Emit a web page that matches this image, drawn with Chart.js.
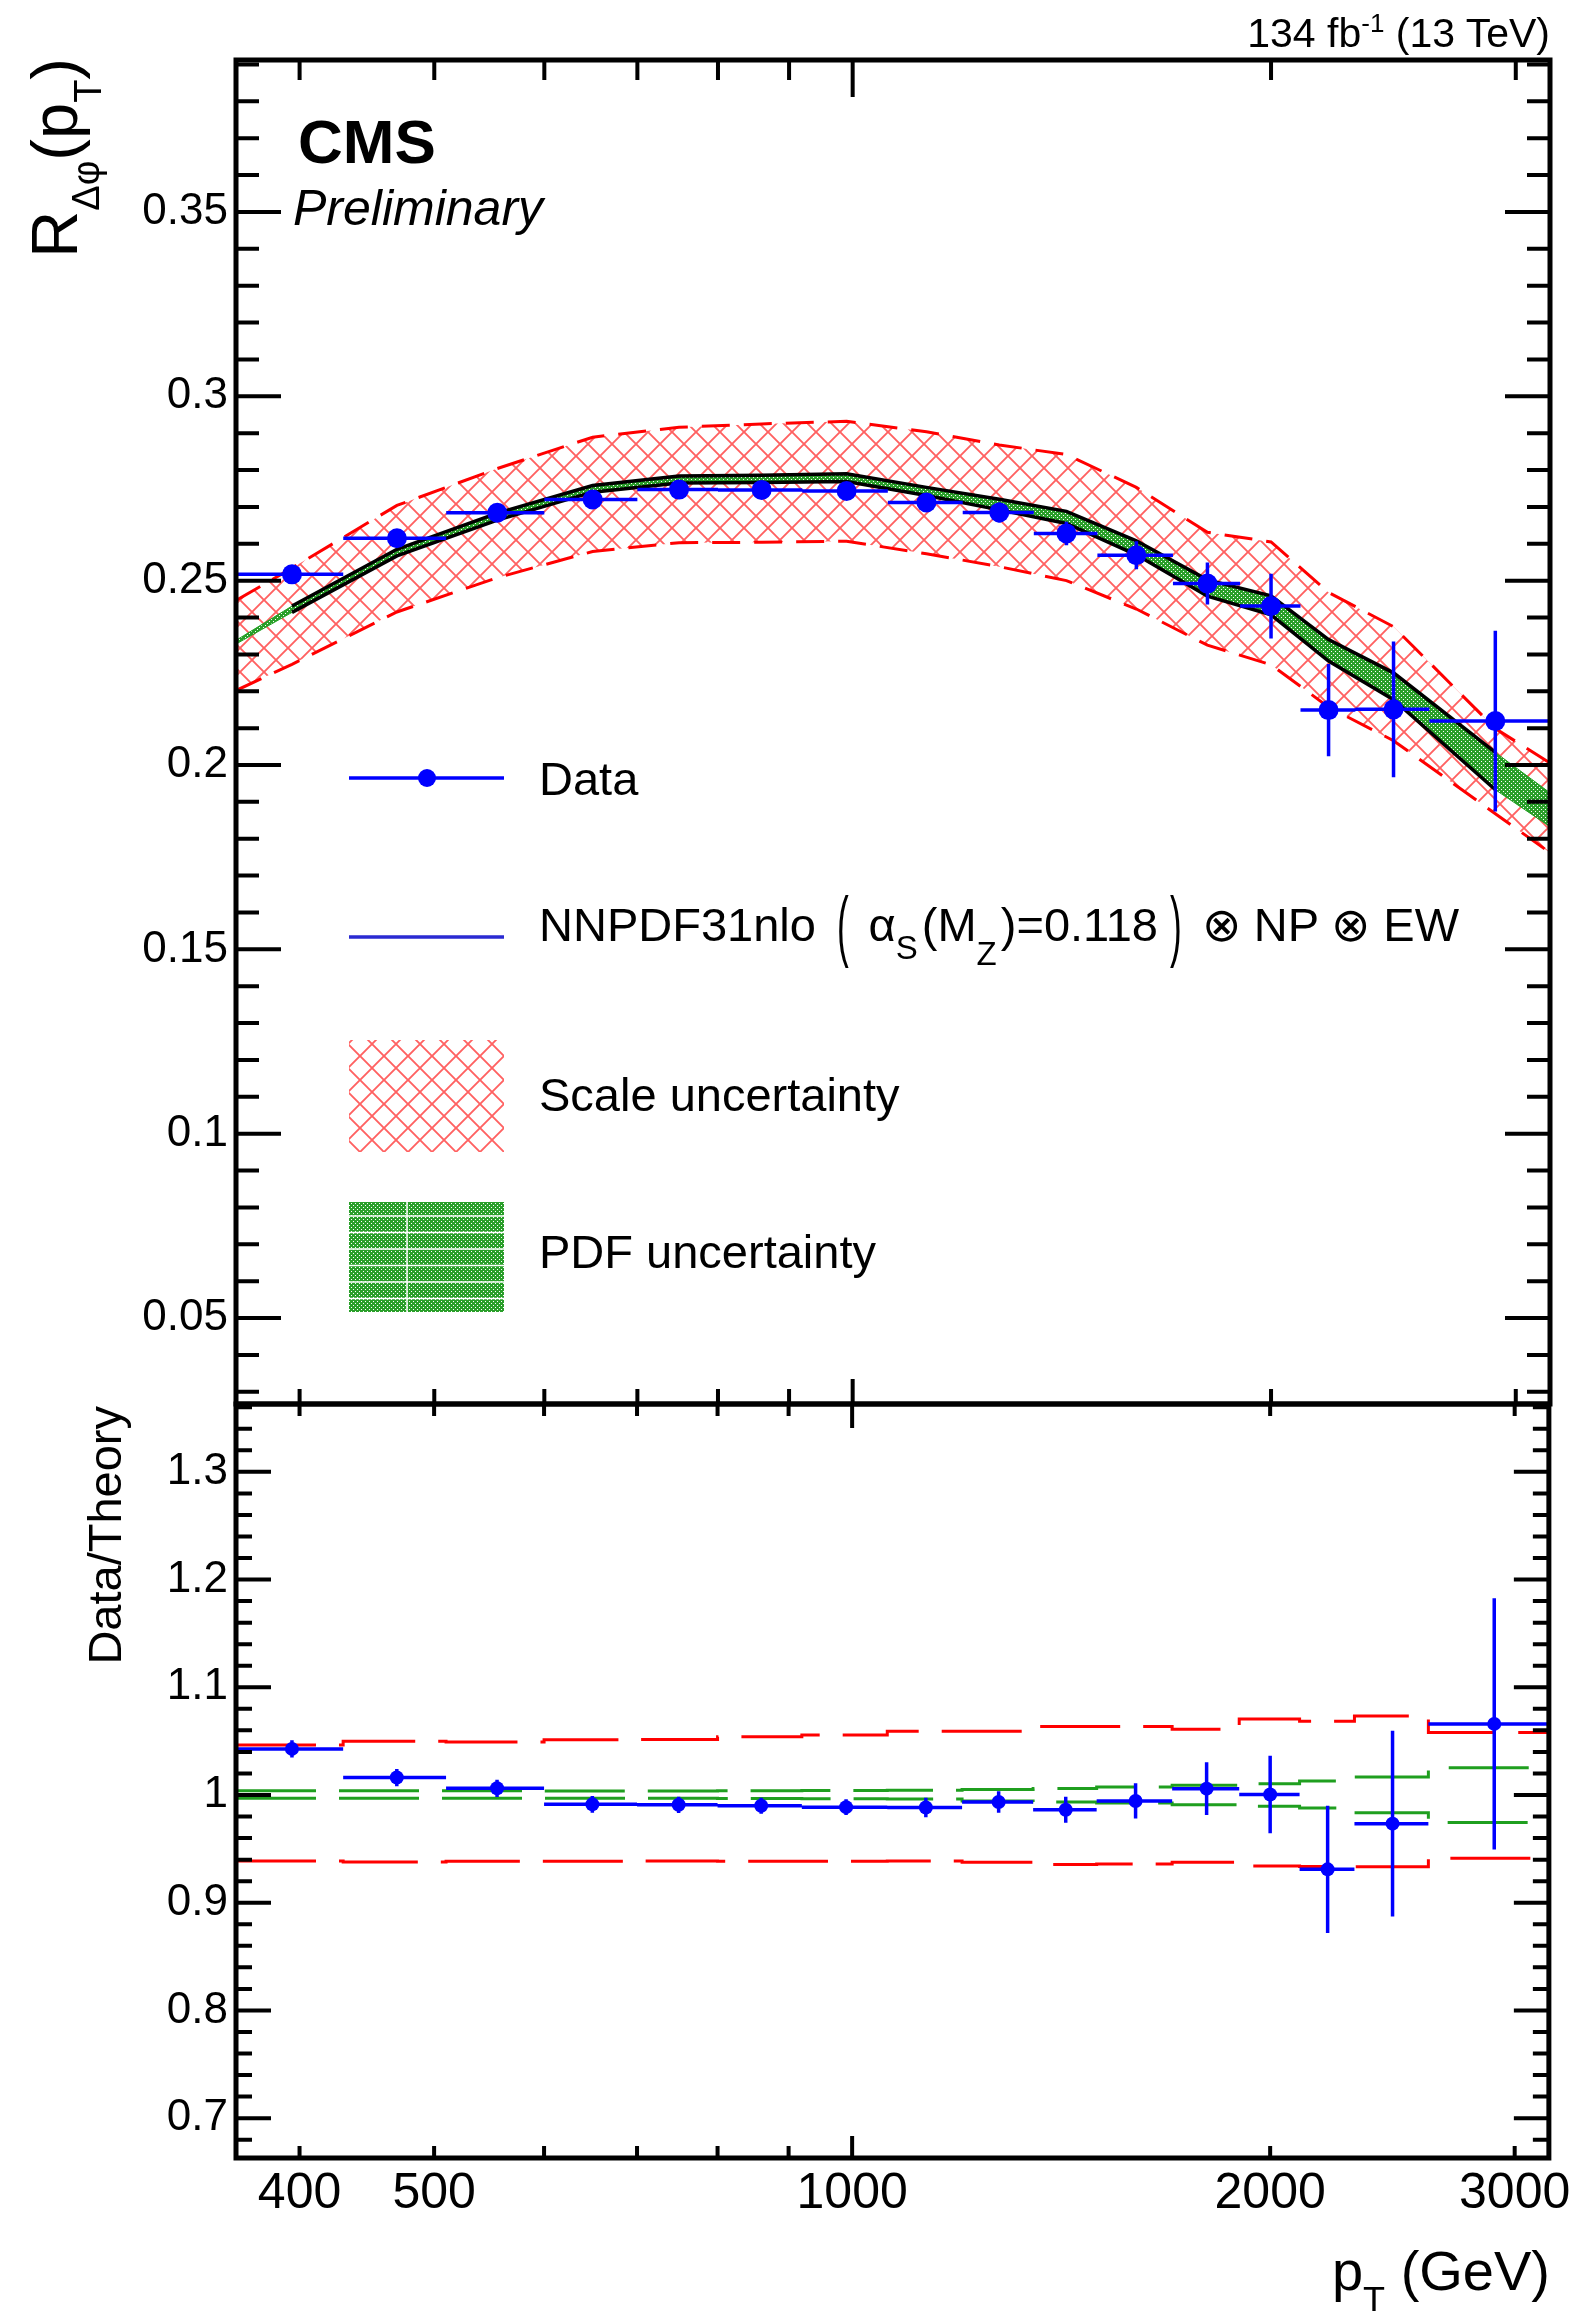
<!DOCTYPE html>
<html>
<head>
<meta charset="utf-8">
<script src="https://cdn.jsdelivr.net/npm/chart.js@4.4.1/dist/chart.umd.min.js"></script>
<style>
  html, body { margin: 0; padding: 0; background: #fff; }
  #page { position: relative; width: 1577px; height: 2311px; overflow: hidden;
          font-family: "Liberation Sans", Arial, Helvetica, sans-serif; color: #000; }
  canvas { position: absolute; left: 0; }
  .t { position: absolute; white-space: nowrap; line-height: 1; }
  .bp { display: inline-block; transform: scale(0.75, 1.65); font-weight: 300; }
</style>
</head>
<body>
<div id="page">
  <canvas id="upper" width="1577" height="1470" style="top:0px"></canvas>
  <canvas id="lower" width="1577" height="971" style="top:1340px"></canvas>
</div>
<script>
// =========================================================================
// Data
// =========================================================================
const binEdges = [360, 430, 510, 600, 700, 800, 920, 1060, 1200, 1350, 1500, 1700, 1900, 2100, 2300, 2600, 3200];
const binCenters = [395, 470, 555, 650, 750, 860, 990, 1130, 1275, 1425, 1600, 1800, 2000, 2200, 2450, 2900];

// measured R_dphi and its error
const dataR = [0.2517, 0.2615, 0.2684, 0.2720, 0.2747, 0.2746, 0.2743, 0.2712, 0.2685, 0.2628, 0.2569, 0.2492, 0.2431, 0.2149, 0.2151, 0.2119];
const dataRErr = [0.0015, 0.0015, 0.0015, 0.0015, 0.0015, 0.0018, 0.0020, 0.0024, 0.0027, 0.0032, 0.0038, 0.0057, 0.0088, 0.0125, 0.0184, 0.0245];

// theory bands in the upper pad: left frame edge, the 16 bin centres, right edge
const scaleHiTop = [0.2446, 0.2534, 0.2704, 0.2804, 0.2889, 0.2916, 0.2925, 0.2932, 0.2904, 0.2868, 0.2842, 0.2753, 0.2631, 0.2605, 0.2468, 0.2375, 0.2099, 0.1997];
const scaleLoTop = [0.2202, 0.2273, 0.2415, 0.2508, 0.2579, 0.2603, 0.2604, 0.2607, 0.2573, 0.2538, 0.2500, 0.2423, 0.2325, 0.2272, 0.2157, 0.2066, 0.1868, 0.1753];
const pdfHiTop = [0.2338, 0.2431, 0.2585, 0.2683, 0.2758, 0.2784, 0.2786, 0.2790, 0.2753, 0.2721, 0.2688, 0.2608, 0.2502, 0.2459, 0.2340, 0.2250, 0.2034, 0.1915];
const pdfLoTop = [0.2328, 0.2414, 0.2567, 0.2664, 0.2740, 0.2765, 0.2766, 0.2769, 0.2731, 0.2692, 0.2655, 0.2570, 0.2458, 0.2407, 0.2282, 0.2177, 0.1933, 0.1824];

// lower pad: data / theory and the relative uncertainties per bin
const ratio = [1.0428, 1.0162, 1.0062, 0.9913, 0.9909, 0.9900, 0.9887, 0.9884, 0.9935, 0.9863, 0.9945, 1.0059, 1.0004, 0.9310, 0.9734, 1.0660];
const ratioErr = [0.008, 0.008, 0.008, 0.0078, 0.0075, 0.0075, 0.0073, 0.009, 0.010, 0.012, 0.0163, 0.0244, 0.036, 0.059, 0.0863, 0.1166];
const scaleUpRatio = [1.0465, 1.0500, 1.0493, 1.0512, 1.0515, 1.0540, 1.0556, 1.0593, 1.0593, 1.0635, 1.0635, 1.0610, 1.0705, 1.0685, 1.0734, 1.0580];
const scaleDnRatio = [0.9388, 0.9377, 0.9386, 0.9386, 0.9388, 0.9384, 0.9386, 0.9388, 0.9375, 0.9355, 0.9360, 0.9375, 0.9340, 0.9336, 0.9335, 0.9413];
const pdfUpRatio = [1.0040, 1.0040, 1.0040, 1.0038, 1.0038, 1.0040, 1.0042, 1.0045, 1.0050, 1.0060, 1.0075, 1.0090, 1.0105, 1.0130, 1.0168, 1.0252];
const pdfDnRatio = [0.9970, 0.9970, 0.9970, 0.9970, 0.9970, 0.9968, 0.9966, 0.9962, 0.9945, 0.9935, 0.9925, 0.9910, 0.9895, 0.9880, 0.9836, 0.9744];

// axes
const xMin = 360, xMax = 3175;
const xTicks = [400, 500, 1000, 2000, 3000];
const xLabels = ["400", "500", "1000", "2000", "3000"];
const xTickMarks = [400, 500, 600, 700, 800, 900, 1000, 2000, 3000];
const xMajorMarks = [1000];
const topYTicks = [0.05, 0.1, 0.15, 0.2, 0.25, 0.3, 0.35];
const topYLabels = ["0.05", "0.1", "0.15", "0.2", "0.25", "0.3", "0.35"];
const botYTicks = [0.7, 0.8, 0.9, 1.0, 1.1, 1.2, 1.3];
const botYLabels = ["0.7", "0.8", "0.9", "1", "1.1", "1.2", "1.3"];

const FONT = '"Liberation Sans", Arial, Helvetica, sans-serif';
const BLUE = "#0000ff";
const RED = "#ff0000";
const GREEN = "#1f9f1f";

// =========================================================================
// Fill patterns (ROOT-like hatching)
// =========================================================================
function redHatch() {
  const s = 24;
  const c = document.createElement("canvas");
  c.width = c.height = s;
  const g = c.getContext("2d");
  g.strokeStyle = "rgba(255,0,0,0.62)";
  g.lineWidth = 1.9;
  g.beginPath();
  for (const dx of [-s, 0, s]) {
    g.moveTo(dx, 0); g.lineTo(dx + s, s);
    g.moveTo(dx + s, 0); g.lineTo(dx, s);
  }
  g.stroke();
  return g.createPattern(c, "repeat");
}

function greenDots() {
  const c = document.createElement("canvas");
  c.width = c.height = 4;
  const g = c.getContext("2d");
  g.fillStyle = "#2a9f2a";
  g.fillRect(0, 0, 4, 4);
  g.fillStyle = "#ffffff";
  g.fillRect(1, 1, 1, 1);
  g.fillRect(3, 3, 1, 1);
  return g.createPattern(c, "repeat");
}

const hatch = redHatch();
const dots = greenDots();

// =========================================================================
// Plugins
// =========================================================================

// frame with inside ticks on all four sides
const rootFrame = {
  id: "rootFrame",
  afterDraw(chart, args, o) {
    const { ctx, chartArea: a } = chart;
    const xs = chart.scales.x, ys = chart.scales.y;
    ctx.save();
    ctx.strokeStyle = "#000";
    ctx.lineWidth = 4;
    ctx.beginPath();
    const n = Math.round((o.yTo - o.yFrom) / o.yStep);
    for (let k = 0; k <= n; k++) {
      const v = o.yFrom + k * o.yStep;
      const major = Math.abs(v / o.yMajor - Math.round(v / o.yMajor)) < 1e-6;
      const len = major ? o.yLen[1] : o.yLen[0];
      const py = ys.getPixelForValue(v);
      if (py < a.top + 3 || py > a.bottom - 3) continue;
      ctx.moveTo(a.left, py); ctx.lineTo(a.left + len, py);
      ctx.moveTo(a.right, py); ctx.lineTo(a.right - len, py);
    }
    xTickMarks.forEach((v) => {
      const major = xMajorMarks.includes(v);
      const px = xs.getPixelForValue(v);
      ctx.moveTo(px, a.top); ctx.lineTo(px, a.top + (major ? o.xTopLen[1] : o.xTopLen[0]));
      ctx.moveTo(px, a.bottom); ctx.lineTo(px, a.bottom - (major ? o.xBotLen[1] : o.xBotLen[0]));
    });
    ctx.stroke();
    ctx.lineWidth = 5;
    ctx.strokeRect(a.left, a.top, a.right - a.left, a.bottom - a.top);
    ctx.restore();
  },
};

// horizontal bin-width bars and vertical error bars for the data
const errorBars = {
  id: "errorBars",
  afterDatasetsDraw(chart) {
    const { ctx, chartArea: a } = chart;
    const xs = chart.scales.x, ys = chart.scales.y;
    ctx.save();
    ctx.beginPath();
    ctx.rect(a.left, a.top, a.right - a.left, a.bottom - a.top);
    ctx.clip();
    chart.data.datasets.forEach((ds) => {
      if (!ds.bars) return;
      ctx.strokeStyle = BLUE;
      ctx.lineWidth = ds.bars.width;
      ctx.beginPath();
      ds.data.forEach((p, i) => {
        const px = xs.getPixelForValue(p.x), py = ys.getPixelForValue(p.y);
        ctx.moveTo(xs.getPixelForValue(ds.bars.lo[i]), py);
        ctx.lineTo(xs.getPixelForValue(ds.bars.hi[i]), py);
        ctx.moveTo(px, ys.getPixelForValue(p.y + ds.bars.err[i]));
        ctx.lineTo(px, ys.getPixelForValue(p.y - ds.bars.err[i]));
      });
      ctx.stroke();
    });
    ctx.restore();
  },
};

// legend symbols (text is placed as HTML below)
const legendMarks = {
  id: "legendMarks",
  afterDraw(chart) {
    const ctx = chart.ctx;
    ctx.save();
    ctx.lineWidth = 3.5;
    ctx.strokeStyle = BLUE;
    ctx.beginPath(); ctx.moveTo(349, 778); ctx.lineTo(504, 778); ctx.stroke();
    ctx.fillStyle = BLUE;
    ctx.beginPath(); ctx.arc(427, 778, 9, 0, 2 * Math.PI); ctx.fill();
    ctx.strokeStyle = "#2a2ad2";
    ctx.beginPath(); ctx.moveTo(349, 937); ctx.lineTo(504, 937); ctx.stroke();
    ctx.fillStyle = hatch;
    ctx.fillRect(349, 1040, 155, 112);
    ctx.fillStyle = dots;
    ctx.fillRect(349, 1202, 155, 110);
    ctx.strokeStyle = "#fff";
    ctx.lineWidth = 1.5;
    ctx.beginPath();
    for (let y = 1216; y < 1312; y += 16.5) { ctx.moveTo(349, y); ctx.lineTo(504, y); }
    ctx.moveTo(407, 1202); ctx.lineTo(407, 1312);
    ctx.stroke();
    ctx.restore();
  },
};

// =========================================================================
// Helpers
// =========================================================================
const pts = (xs, ys) => xs.map((x, i) => ({ x, y: ys[i] }));
const bandX = [binEdges[0], ...binCenters, binEdges[binEdges.length - 1]];
const steps = (vals) => binEdges.map((e, i) => ({ x: e, y: vals[Math.min(i, vals.length - 1)] }));

function yAxis(min, max, ticks, labels) {
  return {
    type: "linear", min, max,
    afterFit: (s) => { s.width = 236; },
    afterBuildTicks: (s) => { s.ticks = ticks.map((v) => ({ value: v })); },
    ticks: { callback: (v, i) => labels[i], color: "#000", padding: 8, font: { family: FONT, size: 44 } },
    grid: { display: false, drawTicks: false },
    border: { display: false },
  };
}

const common = {
  responsive: false,
  animation: false,
  devicePixelRatio: 1,
  events: [],
};

// =========================================================================
// Upper pad (canvas top = page top, plot area 60..1404)
// =========================================================================
new Chart(document.getElementById("upper"), {
  type: "line",
  data: {
    datasets: [
      { data: pts(bandX, scaleHiTop), fill: "+1", backgroundColor: hatch, borderColor: RED, borderWidth: 3, borderDash: [28, 14], pointRadius: 0, order: 10, clip: 0 },
      { data: pts(bandX, scaleLoTop), fill: false, borderColor: RED, borderWidth: 3, borderDash: [28, 14], pointRadius: 0, order: 10, clip: 0 },
      { data: pts(bandX, pdfHiTop), fill: "+1", backgroundColor: dots, borderColor: GREEN, borderWidth: 1, pointRadius: 0, order: 8, clip: 0 },
      { data: pts(bandX, pdfLoTop), fill: false, borderColor: GREEN, borderWidth: 1, pointRadius: 0, order: 8, clip: 0 },
      { data: pts(binCenters, pdfHiTop.slice(1, -1)), fill: false, borderColor: "#000", borderWidth: 3.5, pointRadius: 0, order: 6, clip: 0 },
      { data: pts(binCenters, pdfLoTop.slice(1, -1)), fill: false, borderColor: "#000", borderWidth: 3.5, pointRadius: 0, order: 6, clip: 0 },
      {
        data: pts(binCenters, dataR), showLine: false, pointRadius: 10, pointBackgroundColor: BLUE, pointBorderWidth: 0, order: 1,
        bars: { lo: binEdges.slice(0, -1), hi: binEdges.slice(1), err: dataRErr, width: 3.5 },
      },
    ],
  },
  options: {
    ...common,
    layout: { padding: { left: 0, right: 27, top: 60, bottom: 66 } },
    plugins: {
      legend: { display: false }, tooltip: { enabled: false },
      filler: { drawTime: "beforeDatasetsDraw" },
      rootFrame: { yFrom: 0.03, yTo: 0.39, yStep: 0.01, yMajor: 0.05, yLen: [23, 45], xTopLen: [20, 37], xBotLen: [15, 25] },
    },
    scales: {
      x: { type: "logarithmic", min: xMin, max: xMax, display: false },
      y: yAxis(0.0267, 0.3912, topYTicks, topYLabels),
    },
  },
  plugins: [errorBars, rootFrame, legendMarks],
});

// =========================================================================
// Lower pad (ratio; canvas starts at page y 1340, plot area 1404..2158)
// =========================================================================
new Chart(document.getElementById("lower"), {
  type: "line",
  data: {
    datasets: [
      { data: steps(scaleUpRatio), stepped: true, fill: false, borderColor: RED, borderWidth: 3, borderDash: [80, 23], pointRadius: 0, clip: 0 },
      { data: steps(scaleDnRatio), stepped: true, fill: false, borderColor: RED, borderWidth: 3, borderDash: [80, 23], pointRadius: 0, clip: 0 },
      { data: steps(pdfUpRatio), stepped: true, fill: false, borderColor: GREEN, borderWidth: 3, borderDash: [80, 23], pointRadius: 0, clip: 0 },
      { data: steps(pdfDnRatio), stepped: true, fill: false, borderColor: GREEN, borderWidth: 3, borderDash: [80, 23], pointRadius: 0, clip: 0 },
      {
        data: pts(binCenters, ratio), showLine: false, pointRadius: 7, pointBackgroundColor: BLUE, pointBorderWidth: 0, order: -1,
        bars: { lo: binEdges.slice(0, -1), hi: binEdges.slice(1), err: ratioErr, width: 3.5 },
      },
    ],
  },
  options: {
    ...common,
    layout: { padding: { left: 0, right: 27, top: 64, bottom: 0 } },
    plugins: {
      legend: { display: false }, tooltip: { enabled: false },
      rootFrame: { yFrom: 0.68, yTo: 1.36, yStep: 0.02, yMajor: 0.1, yLen: [16, 35], xTopLen: [12, 24], xBotLen: [12, 22] },
    },
    scales: {
      x: {
        type: "logarithmic", min: xMin, max: xMax,
        afterFit: (s) => { s.height = 153; },
        afterBuildTicks: (s) => { s.ticks = xTicks.map((v) => ({ value: v })); },
        ticks: { callback: (v, i) => xLabels[i], autoSkip: false, maxRotation: 0, color: "#000", padding: 6, font: { family: FONT, size: 50 } },
        grid: { display: false, drawTicks: false },
        border: { display: false },
      },
      y: yAxis(0.663, 1.363, botYTicks, botYLabels),
    },
  },
  plugins: [errorBars, rootFrame],
});

// =========================================================================
// Text (real HTML text on top of the canvases)
// =========================================================================
const page = document.getElementById("page");

function addText(html, x, base, size, extra) {
  const d = document.createElement("div");
  d.className = "t";
  d.innerHTML = html;
  d.style.fontSize = size + "px";
  d.style.left = x + "px";
  d.style.top = (base - 0.8465 * size) + "px";
  Object.assign(d.style, extra || {});
  page.appendChild(d);
  return d;
}

function addVText(html, xBase, yEnd, size) {
  const w = 500;
  const d = document.createElement("div");
  d.className = "t";
  d.innerHTML = html;
  d.style.fontSize = size + "px";
  d.style.width = w + "px";
  d.style.textAlign = "right";
  d.style.left = (xBase - 0.8465 * size) + "px";
  d.style.top = (yEnd + w) + "px";
  d.style.transformOrigin = "0 0";
  d.style.transform = "rotate(-90deg)";
  page.appendChild(d);
}

const sub = (s, size, dy, mr) => `<span style="font-size:${size}px;position:relative;top:${dy}px;margin-right:${mr || 0}px">${s}</span>`;

addText("CMS", 298, 163, 62, { fontWeight: "bold" });
addText("Preliminary", 293, 225, 50, { fontStyle: "italic" });
addText(`134 fb${sub("-1", 26, -15)} (13 TeV)`, 1550, 48, 41, { transform: "translateX(-100%)" });

addVText(`R${sub("&Delta;&phi;", 38, 22)}(p${sub("T", 38, 24)})`, 77, 58, 65);
addVText("Data/Theory", 121, 1406, 47);
addText(`p${sub("T", 36, 23)} (GeV)`, 1550, 2290, 56, { transform: "translateX(-100%)" });

addText("Data", 539, 795, 47);
addText(`NNPDF31nlo <span class="bp" style="margin:0 18px 0 6px">(</span>&alpha;${sub("S", 33, 18, 4)}(M${sub("Z", 33, 24, 4)})=0.118<span class="bp" style="margin:0 18px 0 10px">)</span>&otimes; NP &otimes; EW`, 539, 941, 47);
addText("Scale uncertainty", 539, 1111, 47);
addText("PDF uncertainty", 539, 1268, 47);
</script>
</body>
</html>
